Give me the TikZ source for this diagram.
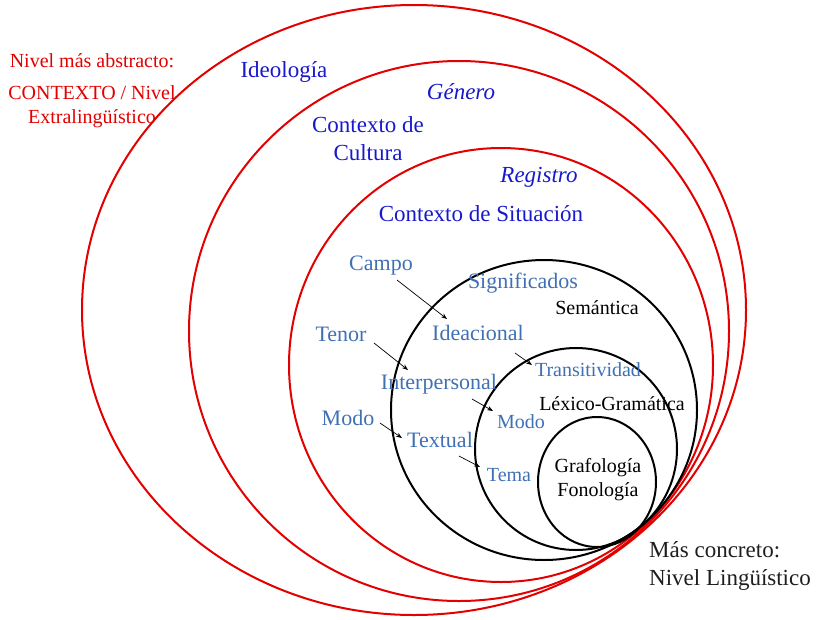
\documentclass[tikz,border=0pt]{standalone}
\usepackage{fontspec}
\setmainfont{Liberation Serif}
\usepackage{tikz}
\usetikzlibrary{calc,arrows.meta}

\definecolor{ringred}{RGB}{226,0,0}
\definecolor{ctxblue}{RGB}{24,24,204}
\definecolor{steel}{RGB}{64,112,180}
\definecolor{darktext}{RGB}{30,30,30}

\begin{document}
\begin{tikzpicture}[x=1pt,y=-1pt,
    redring/.style={draw=ringred,line width=2pt},
    blackring/.style={draw=black,line width=2pt},
    lbl/.style={inner sep=0pt,align=center},
    lblbig/.style={lbl,font=\fontsize{23}{28}\selectfont},
    lblmid/.style={lbl,font=\fontsize{22}{27}\selectfont},
    lblsmall/.style={lbl,font=\fontsize{20}{24}\selectfont},
    tip/.style={-{Stealth[length=6pt,width=4.5pt]},line width=0.7pt}]

  \useasboundingbox (0,0) rectangle (817,619);

  % every ring touches the others in one point, low on the right
  \coordinate (T) at (636,530);

  % outer rings: ideologia, genero, registro
  \draw[redring] (T) ++(-222,-220) ellipse [x radius=332pt, y radius=305pt];
  \draw[redring] (T) ++(-177,-199) ellipse [x radius=270pt, y radius=270pt];
  \draw[redring] (T) ++(-135,-165) ellipse [x radius=212pt, y radius=217pt];

  % inner rings: semantica, lexico-gramatica, grafologia
  \draw[blackring] (T) ++(-92,-120) ellipse [x radius=153pt, y radius=150pt];
  \draw[blackring] (T) ++(-60,-81) ellipse [x radius=101pt, y radius=101pt];
  \draw[blackring] (T) ++(-39,-48) ellipse [x radius=59pt, y radius=65pt];

  % left side, red
  \node[lblsmall,text=ringred] (abstr) at (92,61) {Nivel más abstracto:};
  \node[lblsmall,text=ringred] (extra) at (92,107) {CONTEXTO / Nivel\\Extralingüístico};

  % context labels
  \node[lblbig,text=ctxblue] (ideo) at (284,72) {Ideología};
  \node[lblbig,text=ctxblue,font=\fontsize{23}{28}\selectfont\itshape] (genero) at (461,92) {Género};
  \node[lblbig,text=ctxblue] (cultura) at (368,139) {Contexto de\\Cultura};
  \node[lblbig,text=ctxblue,font=\fontsize{23}{28}\selectfont\itshape] (registro) at (539,177) {Registro};
  \node[lblbig,text=ctxblue] (situ) at (481,214) {Contexto de Situación};

  % register variables and meanings
  \node[lblmid,text=steel] (campo) at (381,266) {Campo};
  \node[lblmid,text=steel] (tenor) at (341,334) {Tenor};
  \node[lblmid,text=steel] (modoa) at (348,418) {Modo};
  \node[lblmid,text=steel] (signif) at (523,283) {Significados};
  \node[lblmid,text=steel] (ideac) at (478,333) {Ideacional};
  \node[lblmid,text=steel] (interp) at (439,384) {Interpersonal};
  \node[lblmid,text=steel] (textual) at (440,440) {Textual};

  % lexico-grammar systems
  \node[lblsmall,text=steel] (transit) at (588,370) {Transitividad};
  \node[lblsmall,text=steel] (modob) at (521,422) {Modo};
  \node[lblsmall,text=steel] (tema) at (509,475) {Tema};

  % strata
  \node[lblsmall] (seman) at (597,308) {Semántica};
  \node[lblsmall] (lexico) at (612,404) {Léxico-Gramática};
  \node[lblsmall] (grafo) at (598,480) {Grafología\\Fonología};

  % right side
  \node[lblbig,text=darktext,align=left,anchor=west] (concr) at (649,566) {Más concreto:\\Nivel Lingüístico};

  % realisation arrows
  \draw[tip] ($(campo)+(16,14)$) -- ($(ideac)+(-31,-14)$);
  \draw[tip] ($(tenor)+(33,9)$) -- ($(interp)+(-31,-14)$);
  \draw[tip] ($(modoa)+(32,5)$) -- ($(textual)+(-38,-2)$);
  \draw[tip] ($(ideac)+(37,20)$) -- ($(transit)+(-56,-5)$);
  \draw[tip] ($(interp)+(33,15)$) -- ($(modob)+(-28,-11)$);
  \draw[tip] ($(textual)+(19,16)$) -- ($(tema)+(-29,-8)$);
\end{tikzpicture}
\end{document}
